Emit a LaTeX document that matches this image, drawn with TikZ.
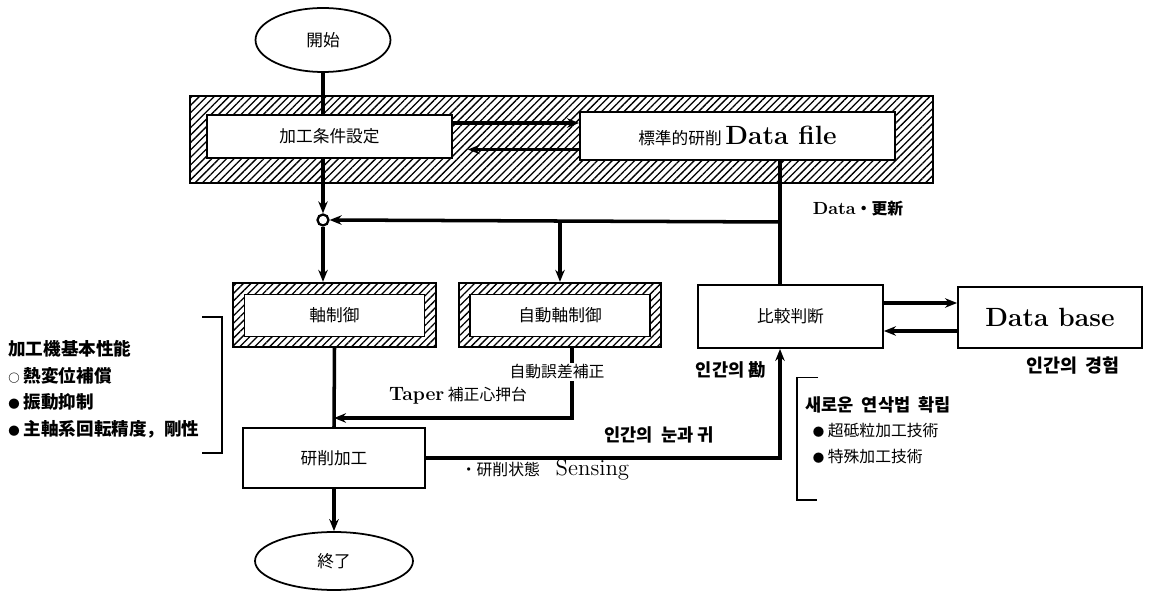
\documentclass[tikz,border=0pt]{standalone}
\usepackage{fontspec}
\newfontfamily\jp{Noto Sans CJK JP}
\newfontfamily\kr{Noto Sans CJK KR}
\usetikzlibrary{arrows.meta,shapes.geometric,patterns.meta}
\newcommand\dotb{{\fontsize{6.5}{7}\selectfont ●}\ }
\newcommand\ringb{{\fontsize{6.5}{7}\selectfont ○}\ }
\tikzset{
  >={Stealth[length=2.4mm,width=1.9mm]},
  box/.style={draw,line width=1.1pt,fill=white,align=center,
    font=\jp\fontsize{9.5}{10}\selectfont},
  hatch/.style={draw,line width=1.3pt,
    pattern={Lines[angle=45,distance=3pt,line width=0.75pt]}},
  term/.style={ellipse,draw,line width=1pt,fill=white,
    font=\jp\fontsize{9.5}{10}\selectfont},
  flow/.style={line width=2pt},
  tag/.style={font=\jp\fontsize{9}{10}\selectfont,inner sep=1pt},
  ktag/.style={font=\kr\bfseries\fontsize{10}{11}\selectfont,inner sep=1pt},
}
\begin{document}
\begin{tikzpicture}[x=0.02cm,y=-0.02cm]
  \useasboundingbox (0,0) rectangle (1150,594);
  % setting stage
  \node[hatch,minimum width=14.86cm,minimum height=1.74cm] (frame) at (561.5,139.5) {};
  \node[term,minimum width=2.7cm,minimum height=1.28cm] (start) at (323,40) {開始};
  \node[box,minimum width=4.9cm,minimum height=0.86cm] (cond) at (329.5,136.5) {加工条件設定};
  \node[box,minimum width=6.3cm,minimum height=0.96cm] (file) at (737.5,136)
    {標準的研削 {\rmfamily\bfseries\fontsize{15}{16}\selectfont Data file}};
  % control boxes
  \foreach \n/\x/\t in {axis/334.5/軸制御, auto/560/自動軸制御} {
    \node[hatch,minimum width=4.05cm,minimum height=1.28cm] (\n) at (\x,315) {};
    \node[box,minimum width=3.6cm,minimum height=0.84cm] (\n-in) at (\x,315.5) {\t};
  }
  \node[box,minimum width=3.7cm,minimum height=1.26cm] (cmp) at (790.5,316.5) {比較判断};
  \node[box,minimum width=3.68cm,minimum height=1.22cm,
    font=\rmfamily\bfseries\fontsize{15}{16}\selectfont] (db) at (1050,317.5) {Data base};
  \node[box,minimum width=3.64cm,minimum height=1.2cm] (grind) at (334,458) {研削加工};
  \node[term,minimum width=3.16cm,minimum height=1.16cm] (finish) at (334,561) {終了};
  \node[circle,draw,line width=1.3pt,fill=white,inner sep=0pt,minimum size=0.22cm] (jun) at (323,220) {};
  \coordinate (upd) at (780,222);
  \coordinate (tp) at (572,418);

  % connectors
  \draw[flow] (start.south) -- (start.south |- cond.north);
  \draw[flow,->] (cond.south -| jun) -- (jun.north);
  \draw[flow,->] (jun.south) -- (jun |- axis.north);
  \draw[flow,->] (upd) -- (jun.east);
  \draw[flow] (cmp.north -| upd) -- (file.south -| upd);
  \draw[flow,->] (auto.north |- upd) -- (auto.north);
  \draw[flow,->] ([yshift=2.7mm]cond.east) -- ([yshift=2.7mm]cond.east -| file.west);
  \draw[flow,->,shorten >=0.3cm] ([yshift=-2.7mm]file.west) -- ([yshift=-2.7mm]file.west -| cond.east);
  \draw[flow,->] ([yshift=2.7mm]cmp.east) -- ([yshift=2.7mm]cmp.east -| db.west);
  \draw[flow,->] ([yshift=-2.7mm]db.west) -- ([yshift=-2.7mm]db.west -| cmp.east);
  \draw[flow] (axis.south) -- (grind.north);
  \draw[flow,->] (auto.south -| tp) -- (tp) -- (tp -| grind.north);
  \draw[flow,->] (grind.south) -- (finish.north);
  \draw[flow,->] (grind.east) -| (cmp.south -| upd);

  % labels
  \node[tag,fill=white] (err) at (557,372) {自動誤差補正};
  \node[tag] (taper) at (458,396) {{\rmfamily\bfseries\fontsize{11}{12}\selectfont Taper} 補正心押台};
  \node[tag,font=\jp\bfseries\fontsize{9}{10}\selectfont] (renew) at (858,209)
    {{\rmfamily\fontsize{10}{11}\selectfont Data}・更新};
  \node[tag] (sense) at (545,470) {・研削状態\quad{\rmfamily\fontsize{13}{14}\selectfont Sensing}};
  \node[ktag] (kan) at (731,370) {인간의 {\jp 勘}};
  \node[ktag] (eye) at (659,435) {인간의\ \ 눈과 귀};
  \node[ktag,font=\kr\bfseries\fontsize{10.5}{11}\selectfont] (exp) at (1073,366) {인간의\ \ 경험};

  % machine performance list
  \node[anchor=north west,align=left,inner sep=0pt,
    font=\jp\bfseries\fontsize{10}{15.2}\selectfont] (spec) at (8,340)
    {加工機基本性能\\\ringb 熱変位補償\\\dotb 振動抑制\\\dotb 主軸系回転精度，剛性};
  \draw[thick] (202,317) -- (222,317) -- (222,453) -- (202,453);

  % new grinding methods
  \node[anchor=north west,align=left,inner sep=0pt,
    font=\jp\fontsize{9}{14.5}\selectfont] (method) at (805,396)
    {{\kr\bfseries\fontsize{10}{11}\selectfont 새로운\ \ 연삭법\ \ 확립}\\
     \hspace{1.5mm}\dotb 超砥粒加工技術\\ \hspace{1.5mm}\dotb 特殊加工技術};
  \draw[thin] (818,377) -- (797,377);
  \draw[thick] (797,377) -- (797,500) -- (817,500);
\end{tikzpicture}
\end{document}
